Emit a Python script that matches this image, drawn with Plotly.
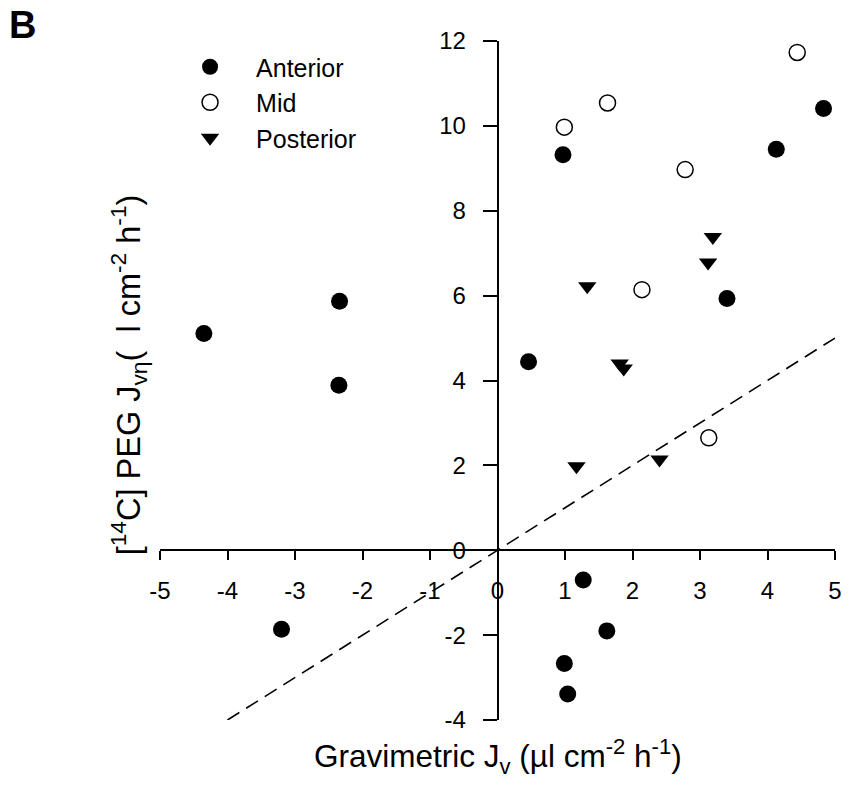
import plotly.graph_objects as go

# Data
ant_x = [-4.35, -2.34, -2.35, -3.20, 0.46, 0.97, 3.40, 4.13, 4.83, 1.27, 1.62, 0.99, 1.04]
ant_y = [5.11, 5.87, 3.89, -1.86, 4.44, 9.32, 5.93, 9.45, 10.41, -0.70, -1.90, -2.67, -3.39]
mid_x = [0.99, 1.63, 2.78, 4.44, 2.14, 3.13]
mid_y = [9.97, 10.54, 8.97, 11.73, 6.14, 2.65]
post_x = [1.33, 3.19, 3.12, 1.81, 1.87, 1.17, 2.40]
post_y = [6.22, 7.38, 6.78, 4.40, 4.28, 1.98, 2.14]
line_x = [-4, 5]
line_y = [-4, 5]

x_range = [-5, 5]
y_range = [-4, 12]
x_ticks = [-5, -4, -3, -2, -1, 0, 1, 2, 3, 4, 5]
x_labels = ["-5", "-4", "-3", "-2", "-1", "0", "1", "2", "3", "4", "5"]
y_ticks = [-4, -2, 0, 2, 4, 6, 8, 10, 12]
y_labels = ["-4", "-2", "0", "2", "4", "6", "8", "10", "12"]

FONT = "Liberation Sans, Arial, sans-serif"

fig = go.Figure()
fig.add_trace(go.Scatter(x=line_x, y=line_y, mode="lines",
                         line=dict(color="black", width=1.6, dash="14px,8px"),
                         showlegend=False, hoverinfo="skip"))
fig.add_trace(go.Scatter(x=ant_x, y=ant_y, mode="markers", name="Anterior",
                         marker=dict(symbol="circle", size=17, color="black",
                                     line=dict(width=0)), cliponaxis=False))
fig.add_trace(go.Scatter(x=mid_x, y=mid_y, mode="markers", name="Mid",
                         marker=dict(symbol="circle-open", size=16, color="black",
                                     line=dict(width=1.5)), cliponaxis=False))
fig.add_trace(go.Scatter(x=post_x, y=post_y, mode="markers", name="Posterior",
                         marker=dict(symbol="triangle-down", size=16, color="black",
                                     line=dict(width=0)), cliponaxis=False))

L, R, T, B = 160, 9, 41, 67
W, H = 851, 787
PW, PH = W - L - R, H - T - B

y0_frac = (0 - y_range[0]) / (y_range[1] - y_range[0])
x0_frac = (0 - x_range[0]) / (x_range[1] - x_range[0])

fig.update_layout(
    width=W, height=H,
    margin=dict(l=L, r=R, t=T, b=B),
    paper_bgcolor="white", plot_bgcolor="white",
    font=dict(family=FONT, size=24, color="black"),
    xaxis=dict(range=x_range, tickvals=x_ticks, ticktext=x_labels, ticks="outside", ticklen=9,
               tickwidth=1.5, tickcolor="black", showgrid=False, zeroline=False,
               showline=True, linecolor="black", linewidth=1.5,
               anchor="free", position=y0_frac, ticklabelstandoff=10,
               tickfont=dict(size=24)),
    yaxis=dict(range=y_range, tickvals=y_ticks, ticktext=y_labels, ticks="outside", ticklen=14,
               tickwidth=1.5, tickcolor="black", showgrid=False, zeroline=False,
               showline=True, linecolor="black", linewidth=1.5,
               anchor="free", position=x0_frac, ticklabelstandoff=12,
               tickfont=dict(size=24)),
    legend=dict(x=0.006, y=1 - 3 / PH, xanchor="left", yanchor="top",
                bgcolor="rgba(0,0,0,0)", font=dict(size=25),
                itemwidth=82, tracegroupgap=0),
    showlegend=True,
)

fig.add_annotation(text="<b>B</b>", xref="paper", yref="paper",
                   x=(5 - L) / PW, y=1 + (T - 2) / PH, xanchor="left", yanchor="top",
                   showarrow=False, font=dict(size=38, family=FONT, color="black"))

fig.add_annotation(text="Gravimetric J<sub>v</sub> (µl cm<sup>-2</sup> h<sup>-1</sup>)",
                   xref="paper", yref="paper", x=0.5, y=(PH + T - 756) / PH,
                   xanchor="center", yanchor="middle", showarrow=False,
                   font=dict(size=31.5, family=FONT, color="black"))

fig.add_annotation(text="[<sup>14</sup>C] PEG J<sub>vη</sub>(  l cm<sup>-2</sup> h<sup>-1</sup>)",
                   xref="paper", yref="paper", x=(128 - L) / PW, y=(PH + T - 375) / PH,
                   xanchor="center", yanchor="middle", showarrow=False, textangle=-90,
                   font=dict(size=32.5, family=FONT, color="black"))

fig.write_html("out.html")
